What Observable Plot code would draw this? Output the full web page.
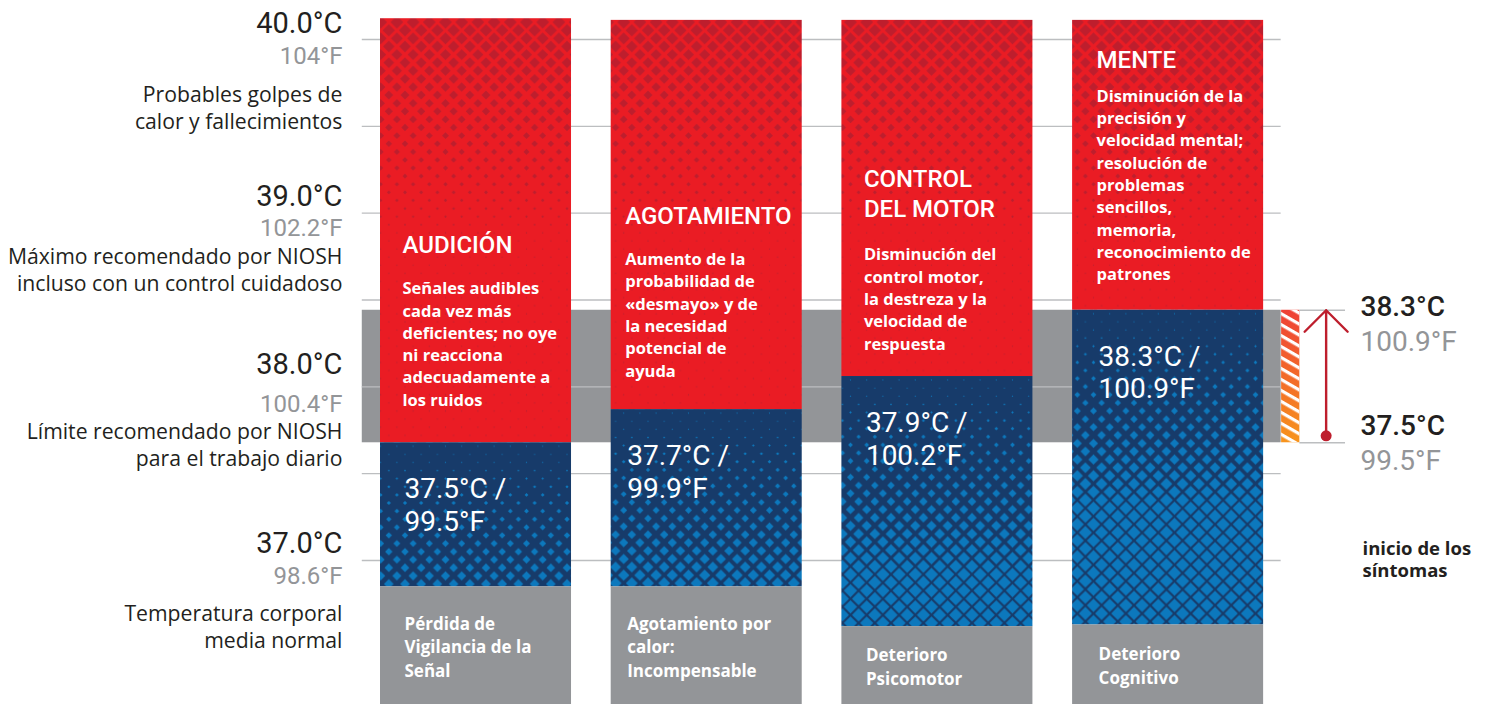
<!DOCTYPE html>
<html lang="es">
<head>
<meta charset="utf-8">
<script src="https://cdn.jsdelivr.net/npm/d3@7"></script>
<script src="https://cdn.jsdelivr.net/npm/@observablehq/plot@0.6"></script>
<style>
  html, body { margin: 0; padding: 0; background: #ffffff; }
  #chart { position: relative; width: 1489px; height: 704px; overflow: hidden; }
  #chart > svg { position: absolute; left: 0; top: 0; }
</style>
</head>
<body>
<div id="chart"></div>
<script>
// ---------------- data ----------------
const columns = ["AUDICIÓN", "AGOTAMIENTO", "CONTROL\nDEL MOTOR", "MENTE"];
const descriptions = [
  "Señales audibles\ncada vez más\ndeficientes; no oye\nni reacciona\nadecuadamente a\nlos ruidos",
  "Aumento de la\nprobabilidad de\n«desmayo» y de\nla necesidad\npotencial de\nayuda",
  "Disminución del\ncontrol motor,\nla destreza y la\nvelocidad de\nrespuesta",
  "Disminución de la\nprecisión y\nvelocidad mental;\nresolución de\nproblemas\nsencillos,\nmemoria,\nreconocimiento de\npatrones"
];
const onsetC = [37.5, 37.7, 37.9, 38.3];
const onsetF = [99.5, 99.9, 100.2, 100.9];
const outcomes = [
  "Pérdida de\nVigilancia de la\nSeñal",
  "Agotamiento por\ncalor:\nIncompensable",
  "Deterioro\nPsicomotor",
  "Deterioro\nCognitivo"
];
const barTopC = [40.06, 40.05, 40.05, 40.05];
const barBaseC = [36.63, 36.63, 36.39, 36.40];

const tickC = [40.0, 39.0, 38.0, 37.0];
const tickF = [104, 102.2, 100.4, 98.6];
const tickNotes = [
  "Probables golpes de\ncalor y fallecimientos",
  "Máximo recomendado por NIOSH\nincluso con un control cuidadoso",
  "Límite recomendado por NIOSH\npara el trabajo diario",
  "Temperatura corporal\nmedia normal"
];
const gridC = [40.0, 39.5, 39.0, 38.5, 38.0, 37.5, 37.0];

const nioshC = [37.5, 38.3];
const nioshF = [99.5, 100.9];
const onsetNote = "inicio de los\nsíntomas";

// ---------------- layout & style ----------------
const W = 1489, H = 704;
const barWidth = 0.828;
const xCfg = {type: "linear", domain: [0, 4], range: [380, 1302.8], axis: null};
const yBarCfg = {type: "linear", domain: [35.92, 40.17], range: [H, 0], axis: null};
const yGridCfg = {type: "linear", domain: [37, 40], range: [560, 39], axis: null};
const bandX = [-0.079, 3.904];
const hatchX = [3.906, 3.985];
const sideTickX = [3.985, 4.183];
const arrowX = 4.099;
const sideLabelX = 4.248;
const leftLabelX = -0.165;
const yMin = yBarCfg.domain[0];

const C = {
  grey: "#939598", grid: "#bcbec0", dark: "#231f20",
  red: "#ea1c24", redDark: "#be1e2d", navy: "#173b6a", blue: "#0c78bd",
  arrow: "#be1e2d", white: "#ffffff"
};
const fontNum = "Roboto, 'Liberation Sans', sans-serif";
const fontText = "'Open Sans', 'Noto Sans', sans-serif";

const padL = [22, 14, 22, 24];
const descGap = [37, 33, 27, 30];
const titleGap = [41, 41, 43, 34];
const descFS = 16.5, descLH = 22.3;
const tickCDy = [-16, -16.7, -22, -16.5];
const tickFDy = [16.5, 15.3, 17.5, 16];
const noteDy = [67, 56, 57, 65];
const sideCDy = [-17, -3], sideFDy = [18, 32];

function layer(y, marks) {
  return Plot.plot({
    width: W, height: H, margin: 0,
    x: xCfg, y,
    style: {background: "transparent", overflow: "visible"},
    marks
  });
}

const rows = columns.map((title, i) => ({
  i, title,
  desc: descriptions[i],
  nDesc: descriptions[i].split("\n").length,
  onset: onsetC[i],
  reading: `${onsetC[i].toFixed(1)}°C /\n${onsetF[i]}°F`,
  top: barTopC[i],
  base: barBaseC[i],
  outcome: outcomes[i]
}));

// ---------- layer 1: NIOSH band ----------
const bandLayer = layer(yBarCfg, [
  Plot.rect([nioshC], {x1: () => bandX[0], x2: () => bandX[1], y1: d => d[0], y2: d => d[1], fill: C.grey})
]);

// ---------- layer 2: grid + left labels ----------
const gridMarks = [
  Plot.ruleY(gridC, {x1: () => bandX[0], x2: () => bandX[1], y: d => d, stroke: C.grid, strokeWidth: 1.4})
];
tickC.forEach((c, k) => {
  gridMarks.push(Plot.text([c], {x: () => leftLabelX, y: d => d, text: d => `${d.toFixed(1)}°C`, textAnchor: "end",
    dy: tickCDy[k], fontSize: 29, fill: C.dark, fontFamily: fontNum}));
  gridMarks.push(Plot.text([tickF[k]], {x: () => leftLabelX, y: () => c, text: d => `${d}°F`, textAnchor: "end",
    dy: tickFDy[k], fontSize: 24, fill: C.grey, fontFamily: fontNum}));
  gridMarks.push(Plot.text([tickNotes[k]], {x: () => leftLabelX, y: () => c, text: d => d, textAnchor: "end",
    lineAnchor: "middle", lineHeight: 27 / 21.2, dy: noteDy[k], fontSize: 21.2, fill: C.dark, fontFamily: fontText}));
});
const gridLayer = layer(yGridCfg, gridMarks);

// ---------- layer 3: bars, texts, side annotation ----------
const mainMarks = [];
rows.forEach(r => {
  const bx = {x1: d => d.i, x2: d => d.i + barWidth};
  mainMarks.push(Plot.rect([r], {...bx, y1: "onset", y2: "top", fill: "url(#redHalftone)"}));
  mainMarks.push(Plot.rect([r], {...bx, y1: "base", y2: "onset", fill: `url(#blueHalftone${r.i})`}));
  mainMarks.push(Plot.rect([r], {...bx, y1: () => yMin, y2: "base", fill: C.grey}));
  mainMarks.push(Plot.text([r], {x: "i", y: "onset", text: "title", textAnchor: "start", lineAnchor: "bottom",
    dx: padL[r.i], dy: -(descGap[r.i] + (r.nDesc - 1) * descLH + titleGap[r.i]),
    fontSize: 24, fontWeight: 500, lineHeight: 30.7 / 24, fill: C.white, fontFamily: fontNum}));
  mainMarks.push(Plot.text([r], {x: "i", y: "onset", text: "desc", textAnchor: "start", lineAnchor: "bottom",
    dx: padL[r.i], dy: -descGap[r.i], fontSize: descFS, fontWeight: 700, lineHeight: descLH / descFS,
    fill: C.white, fontFamily: fontText}));
  mainMarks.push(Plot.text([r], {x: "i", y: "onset", text: "reading", textAnchor: "start", lineAnchor: "bottom",
    dx: padL[r.i] + 2, dy: 88, fontSize: 28, lineHeight: 32.7 / 28, fill: C.white, fontFamily: fontNum}));
  mainMarks.push(Plot.text([r], {x: "i", y: d => (d.base + yMin) / 2, text: "outcome", textAnchor: "start",
    lineAnchor: "middle", dx: padL[r.i] + 2, fontSize: 17, fontWeight: 700, lineHeight: 1.4,
    fill: C.white, fontFamily: fontText}));
});
mainMarks.push(Plot.rect([nioshC], {x1: () => hatchX[0], x2: () => hatchX[1], y1: d => d[0], y2: d => d[1], fill: "url(#hatchGrad)"}));
mainMarks.push(Plot.rect([nioshC], {x1: () => hatchX[0], x2: () => hatchX[1], y1: d => d[0], y2: d => d[1], fill: "url(#hatchStripes)"}));
mainMarks.push(Plot.ruleY(nioshC, {x1: () => sideTickX[0], x2: () => sideTickX[1], y: d => d, stroke: C.grid, strokeWidth: 1.4}));
mainMarks.push(Plot.arrow([nioshC], {x: () => arrowX, y1: d => d[0], y2: d => d[1], stroke: C.arrow,
  strokeWidth: 2.4, headLength: 19, headAngle: 90, insetStart: 6}));
mainMarks.push(Plot.dot([nioshC[0]], {x: () => arrowX, y: d => d, r: 5.5, fill: C.arrow, dy: -7}));
nioshC.forEach((c, k) => {
  mainMarks.push(Plot.text([c], {x: () => sideLabelX, y: d => d, text: d => `${d.toFixed(1)}°C`, textAnchor: "start",
    dy: sideCDy[k], fontSize: 28, fontWeight: 500, fill: C.dark, fontFamily: fontNum}));
  mainMarks.push(Plot.text([nioshF[k]], {x: () => sideLabelX, y: () => c, text: d => `${d}°F`, textAnchor: "start",
    dy: sideFDy[k], fontSize: 28, fill: C.grey, fontFamily: fontNum}));
});
mainMarks.push(Plot.text([onsetNote], {x: () => sideLabelX, y: () => nioshC[0], text: d => d, textAnchor: "start",
  lineAnchor: "middle", dx: 2, dy: 116, fontSize: 18.5, fontWeight: 700, lineHeight: 1.227, fill: C.dark, fontFamily: fontText}));

const mainLayer = layer(yBarCfg, mainMarks);

// ---------- halftone / hatch definitions (positioned with the plot's own y scale) ----------
const ys = mainLayer.scale("y");
const defs = d3.select(mainLayer).insert("defs", ":first-child");
const P = 16.2;
function halftone(id, bg, fg, y0, h, sizeAt) {
  const p = defs.append("pattern").attr("id", id).attr("patternUnits", "userSpaceOnUse")
    .attr("x", 0).attr("y", y0).attr("width", P).attr("height", h);
  p.append("rect").attr("width", P).attr("height", h).attr("fill", bg);
  let path = "";
  for (let k = 0; k * P / 2 <= h + P; k++) {
    const cy = k * P / 2 + 4, s = sizeAt(cy);
    const xs = k % 2 ? [0, P] : [P / 2];
    for (const cx of xs) path += `M${cx - s},${cy}L${cx},${cy - s}L${cx + s},${cy}L${cx},${cy + s}Z`;
  }
  p.append("path").attr("d", path).attr("fill", fg);
}
const redY0 = Math.min(...rows.map(r => ys.apply(r.top)));
const redH = Math.max(...rows.map(r => ys.apply(r.onset))) - redY0 + 20;
halftone("redHalftone", C.red, C.redDark, redY0, redH, d => Math.max(0.8, 6.5 - 0.026 * d));
rows.forEach(r => {
  const y0 = ys.apply(r.onset), h = ys.apply(r.base) - y0 + 20;
  halftone(`blueHalftone${r.i}`, C.navy, C.blue, y0, h, d => Math.min(6.6, 0.7 + Math.max(0, d - 20) * 0.034));
});
const grad = defs.append("linearGradient").attr("id", "hatchGrad").attr("x1", 0).attr("y1", 0).attr("x2", 0).attr("y2", 1);
grad.append("stop").attr("offset", 0).attr("stop-color", "#ee4036");
grad.append("stop").attr("offset", 1).attr("stop-color", "#f7941d");
const stripes = defs.append("pattern").attr("id", "hatchStripes").attr("patternUnits", "userSpaceOnUse")
  .attr("width", 9.5).attr("height", 9.5).attr("patternTransform", "rotate(30)");
stripes.append("rect").attr("width", 9.5).attr("height", 3.2).attr("fill", "#ffffff");

const chart = document.getElementById("chart");
chart.append(bandLayer, gridLayer, mainLayer);
</script>
</body>
</html>
